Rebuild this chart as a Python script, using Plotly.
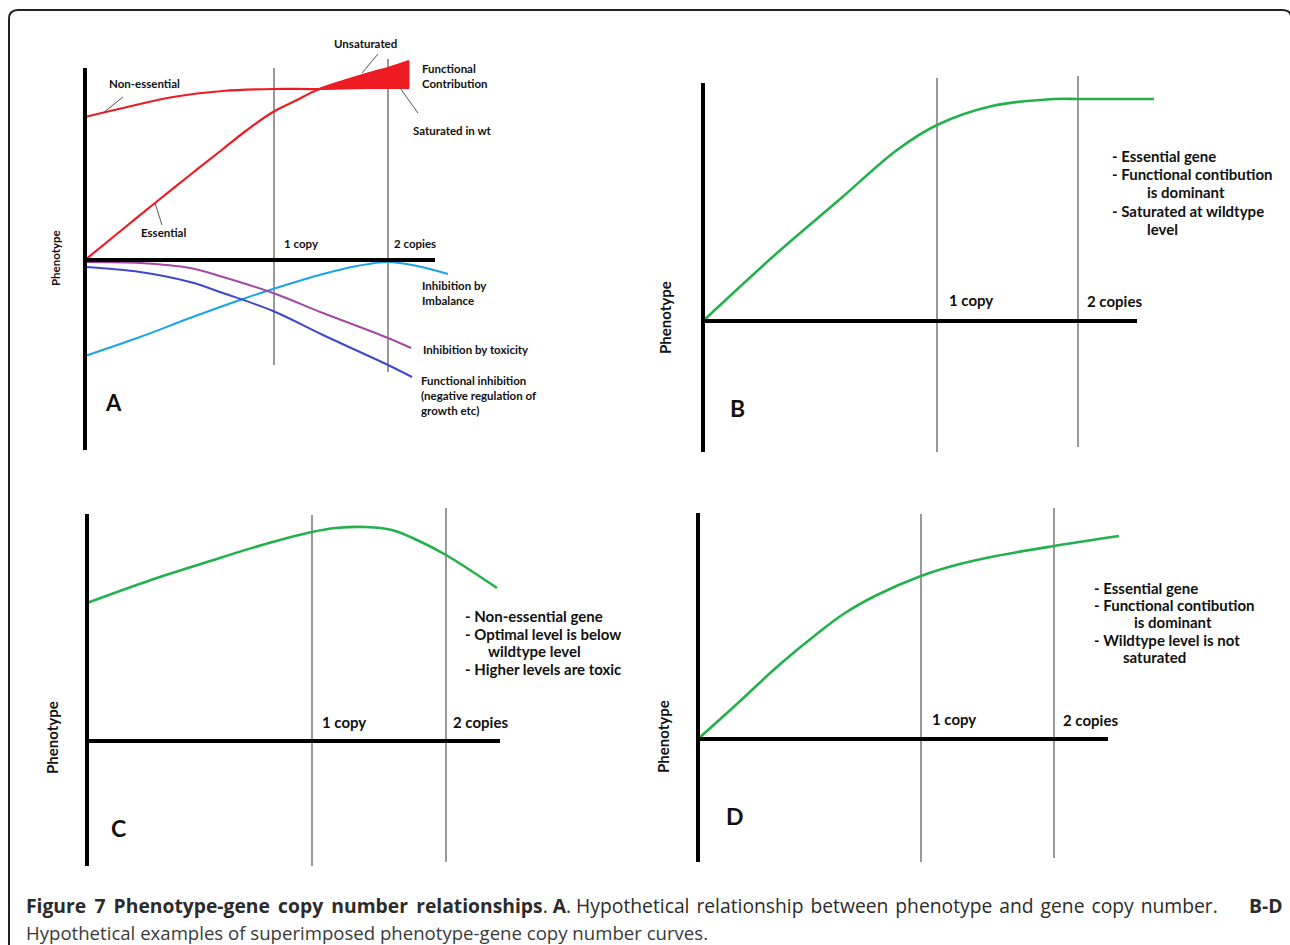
import plotly.graph_objects as go

W, H = 1290, 945

# ---------------- data (arbitrary dosage / phenotype units) ----------------
copy_labels = ["1 copy", "2 copies"]

# Panel A
A_nonessential_x = [0.0, 0.38, 0.88, 1.38, 1.88, 2.32, 2.80, 3.24]
A_nonessential_y = [1.43, 1.52, 1.63, 1.69, 1.71, 1.71, 1.72, 1.72]
A_essential_x = [0.0, 0.38, 0.70, 1.05, 1.38, 1.62, 1.88, 2.12, 2.32, 2.55, 2.88, 3.03, 3.24]
A_essential_y = [0.0, 0.31, 0.57, 0.85, 1.11, 1.30, 1.48, 1.60, 1.70, 1.78, 1.88, 1.92, 1.99]
A_imbalance_x = [0.0, 0.55, 1.05, 1.55, 1.88, 2.38, 2.72, 3.03, 3.32, 3.63]
A_imbalance_y = [-0.96, -0.77, -0.58, -0.40, -0.29, -0.14, -0.06, -0.02, -0.06, -0.14]
A_toxicity_x = [0.0, 0.55, 1.05, 1.38, 1.88, 2.38, 3.03, 3.26]
A_toxicity_y = [-0.02, -0.03, -0.08, -0.17, -0.33, -0.53, -0.78, -0.88]
A_funcinh_x = [0.0, 0.55, 1.05, 1.38, 1.88, 2.38, 3.03, 3.27]
A_funcinh_y = [-0.07, -0.12, -0.22, -0.33, -0.51, -0.75, -1.05, -1.17]
A_copy_x = [1.89, 3.03]
A_saturation_start = 2.32

# Panel B
B_x = [0.0, 0.74, 1.36, 1.94, 2.34, 2.89, 3.51, 3.75, 4.51]
B_y = [0.0, 0.68, 1.21, 1.71, 1.96, 2.15, 2.22, 2.22, 2.22]
B_copy_x = [2.34, 3.75]
B_notes = ["- Essential gene", "- Functional contibution", "is dominant",
           "- Saturated at wildtype", "level"]

# Panel C
C_x = [0.0, 0.64, 1.20, 1.75, 2.25, 2.49, 2.79, 3.05, 3.30, 3.59, 4.10]
C_y = [1.38, 1.61, 1.79, 1.96, 2.09, 2.13, 2.14, 2.11, 2.01, 1.86, 1.53]
C_copy_x = [2.25, 3.59]
C_notes = ["- Non-essential gene", "- Optimal level is below", "wildtype level",
           "- Higher levels are toxic"]

# Panel D
D_x = [0.0, 0.40, 0.80, 1.20, 1.47, 1.79, 2.23, 2.58, 2.98, 3.56, 4.21]
D_y = [0.0, 0.36, 0.73, 1.06, 1.26, 1.44, 1.63, 1.74, 1.83, 1.93, 2.03]
D_copy_x = [2.23, 3.56]
D_notes = ["- Essential gene", "- Functional contibution", "is dominant",
           "- Wildtype level is not", "saturated"]

# Caption
caption_title = "Figure 7 Phenotype-gene copy number relationships"
caption_line1 = "Hypothetical relationship between phenotype and gene copy number."
caption_line2 = "Hypothetical examples of superimposed phenotype-gene copy number curves."

# ---------------- layout geometry ----------------
RED = "#ED1C24"
GREEN = "#22B14C"
CYAN = "#1AA3E8"
PURPLE = "#A349A4"
BLUE = "#3F48CC"
GRAY = "#555555"
FONT = "Lato"

panels = {
    "A": dict(s="", dom=(15, 640, 20, 475), org=(85, 260),
              vax=(1.92, -1.90), hax=3.50, cl=[(1.92, -1.05), (2.01, -1.12)]),
    "B": dict(s="2", dom=(640, 1285, 20, 475), org=(703, 321),
              vax=(2.38, -1.31), hax=4.34, cl=[(2.43, -1.31), (2.45, -1.26)]),
    "C": dict(s="3", dom=(15, 640, 480, 885), org=(87, 741),
              vax=(2.27, -1.25), hax=4.13, cl=[(2.26, -1.25), (2.33, -1.21)]),
    "D": dict(s="4", dom=(640, 1285, 480, 885), org=(698, 739),
              vax=(2.26, -1.23), hax=4.10, cl=[(2.25, -1.23), (2.31, -1.19)]),
}
copy_pos = {"A": A_copy_x, "B": B_copy_x, "C": C_copy_x, "D": D_copy_x}

fig = go.Figure()
shapes = []
annotations = []


def ax(p):
    s = panels[p]["s"]
    return "x" + s, "y" + s


def line_trace(p, x, y, color, width, shape="spline"):
    xr, yr = ax(p)
    fig.add_trace(go.Scatter(x=x, y=y, mode="lines", xaxis=xr, yaxis=yr,
                             line=dict(color=color, width=width, shape=shape, smoothing=1.0),
                             hoverinfo="skip", showlegend=False))


def text(p, x, y, t, size, xanchor="left", angle=0, color="#111111", family=FONT):
    xr, yr = ax(p)
    annotations.append(dict(x=x, y=y, xref=xr, yref=yr, text=t, showarrow=False,
                            xanchor=xanchor, yanchor="middle", textangle=angle,
                            align="left", font=dict(family=family, size=size, color=color)))


for p, cfg in panels.items():
    xr, yr = ax(p)
    for cx, (top, bot) in zip(copy_pos[p], cfg["cl"]):
        line_trace(p, [cx, cx], [top, bot], GRAY, 1.2, shape="linear")
    shapes.append(dict(type="line", xref=xr, yref=yr, x0=0, x1=0,
                       y0=cfg["vax"][0], y1=cfg["vax"][1],
                       line=dict(color="black", width=4)))
    shapes.append(dict(type="line", xref=xr, yref=yr, x0=0, x1=cfg["hax"],
                       y0=0, y1=0, line=dict(color="black", width=4)))

# ---- Panel A curves ----
tail_e = [i for i, v in enumerate(A_essential_x) if v >= A_saturation_start]
tail_n = [i for i, v in enumerate(A_nonessential_x) if v >= A_saturation_start]
poly_x = [A_essential_x[i] for i in tail_e] + [A_nonessential_x[i] for i in reversed(tail_n)]
poly_y = [A_essential_y[i] for i in tail_e] + [A_nonessential_y[i] for i in reversed(tail_n)]
fig.add_trace(go.Scatter(x=poly_x, y=poly_y, mode="lines", fill="toself",
                         fillcolor=RED, line=dict(color=RED, width=1),
                         xaxis="x", yaxis="y", hoverinfo="skip", showlegend=False))
line_trace("A", A_imbalance_x, A_imbalance_y, CYAN, 2)
line_trace("A", A_toxicity_x, A_toxicity_y, PURPLE, 2)
line_trace("A", A_funcinh_x, A_funcinh_y, BLUE, 2)
line_trace("A", A_nonessential_x, A_nonessential_y, RED, 2.2)
line_trace("A", A_essential_x, A_essential_y, RED, 2.2)

for (x0, y0, x1, y1) in [(0.38, 1.63, 0.18, 1.47), (2.93, 2.06, 2.77, 1.87),
                         (3.15, 1.72, 3.33, 1.47), (0.70, 0.57, 0.77, 0.35)]:
    shapes.append(dict(type="line", xref="x", yref="y", x0=x0, y0=y0, x1=x1, y1=y1,
                       line=dict(color=GRAY, width=1)))

# ---- Panels B, C, D curves ----
line_trace("B", B_x, B_y, GREEN, 2.6)
line_trace("C", C_x, C_y, GREEN, 2.6)
line_trace("D", D_x, D_y, GREEN, 2.6)

# ---- text, panel A ----
sA = 11.5
text("A", 2.80, 2.17, "<b>Unsaturated</b>", sA, xanchor="center")
text("A", 3.35, 1.845, "<b>Functional<br>Contribution</b>", sA)
text("A", 0.22, 1.77, "<b>Non-essential</b>", sA)
text("A", 3.26, 1.30, "<b>Saturated in wt</b>", sA)
text("A", 0.54, 0.28, "<b>Essential</b>", sA)
text("A", 1.97, 0.17, "<b>" + copy_labels[0] + "</b>", sA)
text("A", 3.07, 0.17, "<b>" + copy_labels[1] + "</b>", sA)
text("A", 3.35, -0.33, "<b>Inhibition by<br>Imbalance</b>", sA)
text("A", 3.36, -0.89, "<b>Inhibition by toxicity</b>", sA)
text("A", 3.34, -1.35, "<b>Functional inhibition<br>(negative regulation of<br>growth etc)</b>", sA)
text("A", 0.28, -1.42, "<b>A</b>", 22, xanchor="center")
text("A", -0.30, 0.02, "<b>Phenotype</b>", sA, xanchor="center", angle=-90)

# ---- text, panels B, C, D ----
sB = 15
text("B", 2.44, 0.21, "<b>" + copy_labels[0] + "</b>", sB)
text("B", 3.82, 0.20, "<b>" + copy_labels[1] + "</b>", sB)
text("B", 0.34, -0.87, "<b>B</b>", 23, xanchor="center")
text("B", -0.38, 0.03, "<b>Phenotype</b>", sB, xanchor="center", angle=-90)
for t, xx, yy in zip(B_notes, [4.07, 4.07, 4.42, 4.07, 4.42], [1.65, 1.47, 1.29, 1.10, 0.92]):
    text("B", xx, yy, "<b>" + t + "</b>", sB)

text("C", 2.33, 0.19, "<b>" + copy_labels[0] + "</b>", sB)
text("C", 3.64, 0.19, "<b>" + copy_labels[1] + "</b>", sB)
text("C", 0.31, -0.87, "<b>C</b>", 23, xanchor="center")
text("C", -0.35, 0.03, "<b>Phenotype</b>", sB, xanchor="center", angle=-90)
for t, xx, yy in zip(C_notes, [3.76, 3.76, 3.99, 3.76], [1.25, 1.07, 0.90, 0.72]):
    text("C", xx, yy, "<b>" + t + "</b>", sB)

text("D", 2.32, 0.20, "<b>" + copy_labels[0] + "</b>", sB)
text("D", 3.63, 0.19, "<b>" + copy_labels[1] + "</b>", sB)
text("D", 0.37, -0.77, "<b>D</b>", 23, xanchor="center")
text("D", -0.35, 0.02, "<b>Phenotype</b>", sB, xanchor="center", angle=-90)
for t, xx, yy in zip(D_notes, [3.94, 3.94, 4.34, 3.94, 4.23], [1.51, 1.34, 1.17, 0.99, 0.82]):
    text("D", xx, yy, "<b>" + t + "</b>", sB)

# ---- caption (first line widened slightly to imitate justified text) ----
CAP = "Open Sans"
title_j = caption_title.replace(" ", " \u2009")
line1_j = caption_line1.replace(" ", " \u200a")
annotations.append(dict(
    x=24 / W, y=1 - 905 / H, xref="paper", yref="paper", xanchor="left", yanchor="middle",
    showarrow=False, align="left",
    text="<b>" + title_j + "</b>. <b>A</b>. " + line1_j,
    font=dict(family=CAP, size=19.3, color="#2b2b2b")))
annotations.append(dict(
    x=1284 / W, y=1 - 905 / H, xref="paper", yref="paper", xanchor="right", yanchor="middle",
    showarrow=False, text="<b>B-D</b>", font=dict(family=CAP, size=19.3, color="#2b2b2b")))
annotations.append(dict(
    x=24 / W, y=1 - 932 / H, xref="paper", yref="paper", xanchor="left", yanchor="middle",
    showarrow=False, text=caption_line2,
    font=dict(family=CAP, size=18.6, color="#3a3a3a")))


def px(x):
    return x / W


def py(y):
    return 1 - y / H


frame = (f"M {px(9)},{py(950)} L {px(9)},{py(19)} Q {px(9)},{py(10)} {px(18)},{py(10)} "
         f"L {px(1282)},{py(10)} Q {px(1290)},{py(10)} {px(1291)},{py(16)}")
shapes.append(dict(type="path", xref="paper", yref="paper", path=frame,
                   line=dict(color="#222222", width=2)))

layout_axes = {}
for p, cfg in panels.items():
    x0, x1, y0, y1 = cfg["dom"]
    ox, oy = cfg["org"]
    s = cfg["s"]
    layout_axes["xaxis" + s] = dict(domain=[x0 / W, x1 / W], range=[(x0 - ox) / 100, (x1 - ox) / 100],
                                    visible=False, fixedrange=True, anchor="y" + s)
    layout_axes["yaxis" + s] = dict(domain=[1 - y1 / H, 1 - y0 / H], range=[(oy - y1) / 100, (oy - y0) / 100],
                                    visible=False, fixedrange=True, anchor="x" + s)

fig.update_layout(width=W, height=H, margin=dict(l=0, r=0, t=0, b=0),
                  paper_bgcolor="white", plot_bgcolor="rgba(0,0,0,0)",
                  shapes=shapes, annotations=annotations, showlegend=False,
                  **layout_axes)

fig.write_html("out.html", config={"displayModeBar": False},
               post_script="document.body.style.margin='0';document.body.style.overflow='hidden';")
